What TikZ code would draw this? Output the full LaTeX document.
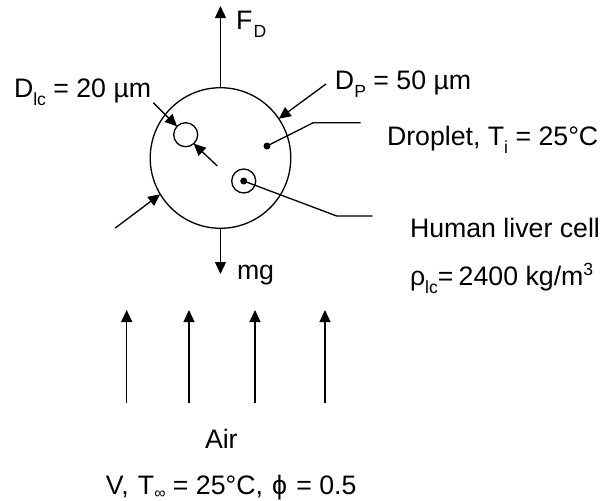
\documentclass[tikz,border=0pt]{standalone}
\usepackage{fontspec}
\setmainfont{Liberation Sans}
\usetikzlibrary{arrows.meta}

\begin{document}
\begin{tikzpicture}[
    x=0.02cm,
    y=-0.02cm,
    line join=miter,
    every node/.style={font=\fontsize{15.2}{18}\selectfont},
]
\definecolor{dropInk}{HTML}{000000}

\tikzset{
    wire/.style={draw=dropInk,line width=0.75pt},
    force/.style={wire,-{Triangle[width=0.22cm,length=0.24cm]}},
    label/.style={text=dropInk,anchor=base west,inner sep=0pt,outer sep=0pt},
    ring/.style={draw=dropInk,line width=0.75pt,circle,inner sep=0pt,outer sep=0pt},
    dotmark/.style={fill=dropInk,circle,inner sep=0pt,outer sep=0pt,minimum size=0.14cm},
}

\newcommand{\lowsub}[1]{\raisebox{-4.6pt}{\fontsize{10}{10}\selectfont #1}}
\newcommand{\tinysub}[1]{\raisebox{-2.6pt}{\fontsize{9}{9}\selectfont #1}}
\newcommand{\highsup}[1]{\raisebox{5.2pt}{\fontsize{10}{10}\selectfont #1}}

\fill[white] (0,0) rectangle (603,501);
\useasboundingbox (0,0) rectangle (603,501);

\node[ring,minimum size=2.812cm] (droplet) at (220.5,158) {};
\node[ring,minimum size=0.48cm] (hole) at (185.7,134.7) {};
\node[ring,minimum size=0.48cm] (cell) at (243.7,181) {};
\node[dotmark] (dropletdot) at (267,146) {};
\node[dotmark] (celldot) at (243.7,181) {};

\coordinate (dragtip) at (220.5,6);
\coordinate (weighttip) at (220.5,274);
\coordinate (diamstart) at (326,84);
\coordinate (diamback) at (115.3,228);
\coordinate (holestart) at (153.3,102.7);
\coordinate (holeback) at (217.3,166);
\coordinate (dropletbend) at (313.3,122.7);
\coordinate (dropletend) at (360.7,122.7);
\coordinate (cellbend) at (336.7,216);
\coordinate (cellend) at (372.7,216);

\draw[force] (droplet.north) -- (dragtip);
\draw[force] (droplet.south) -- (weighttip);
\draw[force] (diamstart) -- (droplet.34);
\draw[force] (diamback) -- (droplet.211);
\draw[force] (holestart) -- (hole.136);
\draw[force] (holeback) -- (hole.-48);
\draw[wire] (dropletdot.center) -- (dropletbend) -- (dropletend);
\draw[wire] (celldot.center) -- (cellbend) -- (cellend);

\foreach \n/\x in {1/126.7,2/189,3/255,4/325} {
    \coordinate (airtail\n) at (\x,403.3);
    \coordinate (airtip\n) at (\x,310);
    \draw[force] (airtail\n) -- (airtip\n);
}

\node[label] (dragtext) at (236,29) {F\hspace{0.8pt}\lowsub{D}};
\node[label] (holetext) at (14,97) {D\lowsub{lc} = 20 µm};
\node[label] (diamtext) at (335,89) {D\lowsub{P} = 50 µm};
\node[label] (dropletext) at (387,145) {Droplet, T\lowsub{i} = 25°C};
\node[label] (weighttext) at (237,279) {mg};
\node[label] (celltext) at (410,237) {Human liver cell};
\node[label] (densitytext) at (410,285) {ρ\lowsub{lc}=\hspace{3pt}2400 kg/m\highsup{3}};
\node[label] (airtext) at (205,448) {Air};
\node[label] (inflowtext) at (106,494) {V,\hspace{1pt} T\tinysub{∞} = 25°C,\hspace{1pt} ϕ\hspace{1pt} = 0.5};
\end{tikzpicture}
\end{document}
